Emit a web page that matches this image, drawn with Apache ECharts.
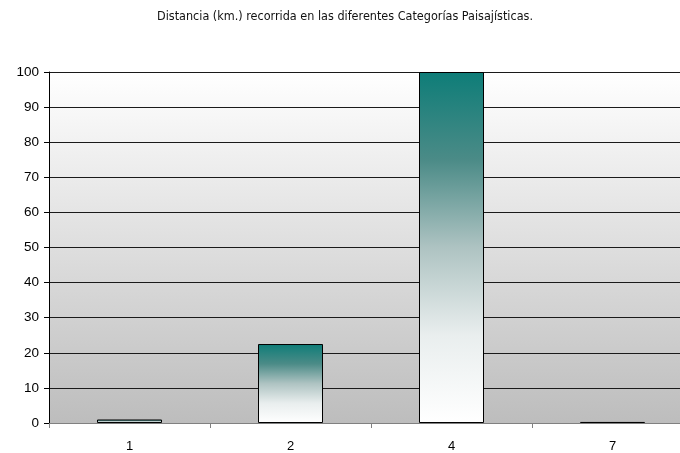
<!DOCTYPE html>
<html><head><meta charset="utf-8">
<script src="https://cdn.jsdelivr.net/npm/echarts@6/dist/echarts.min.js"></script>
<style>html,body{margin:0;padding:0;background:#fff;overflow:hidden;width:680px;height:453px}#c{width:700px;height:453px}</style>
</head><body><div id="c"></div>
<script>
const titleText = 'Distancia (km.) recorrida en las diferentes Categorías Paisajísticas.';
const categories = ['1', '2', '4', '7'];
const distances = [1.0, 22.5, 100, 0.3];
const yTicks = {min: 0, max: 100, interval: 10};

const chart = echarts.init(document.getElementById('c'), null, {renderer: 'canvas'});
const barGrad = new echarts.graphic.LinearGradient(0, 0, 0, 1, [
  {offset: 0, color: '#0e7d78'},
  {offset: 0.25, color: '#4b8b87'},
  {offset: 0.5, color: '#aec3c2'},
  {offset: 0.75, color: '#e9eeee'},
  {offset: 1, color: '#ffffff'}
]);
chart.setOption({
  animation: false,
  title: {
    text: titleText, left: 340, textAlign: 'center', top: 5,
    textStyle: {fontFamily: 'DejaVu Sans Condensed', fontSize: 12.5, fontWeight: 'normal', color: '#111'}
  },
  grid: {
    left: 49, right: 7, top: 72, bottom: 28.5, containLabel: false,
    show: true, borderWidth: 0,
    backgroundColor: new echarts.graphic.LinearGradient(0, 0, 0, 1, [
      {offset: 0, color: '#ffffff'},
      {offset: 1, color: '#bdbdbd'}
    ])
  },
  xAxis: {
    type: 'category', data: categories, boundaryGap: true,
    axisLine: {lineStyle: {color: '#808080', width: 1}},
    axisTick: {show: true, length: 5, lineStyle: {color: '#808080'}},
    axisLabel: {fontFamily: 'Liberation Sans', fontSize: 13, color: '#000', margin: 17}
  },
  yAxis: {
    type: 'value', min: yTicks.min, max: yTicks.max, interval: yTicks.interval,
    axisLine: {show: true, lineStyle: {color: '#000', width: 1}},
    axisTick: {show: true, length: 5, lineStyle: {color: '#000'}},
    axisLabel: {fontFamily: 'Liberation Sans', fontSize: 13.5, color: '#000', margin: 10},
    splitLine: {show: true, lineStyle: {color: '#1a1a1a', width: 1}}
  },
  series: [{
    type: 'bar', data: distances, barWidth: 65,
    itemStyle: {color: barGrad, borderColor: '#000', borderWidth: 1}
  }]
});
</script></body></html>
